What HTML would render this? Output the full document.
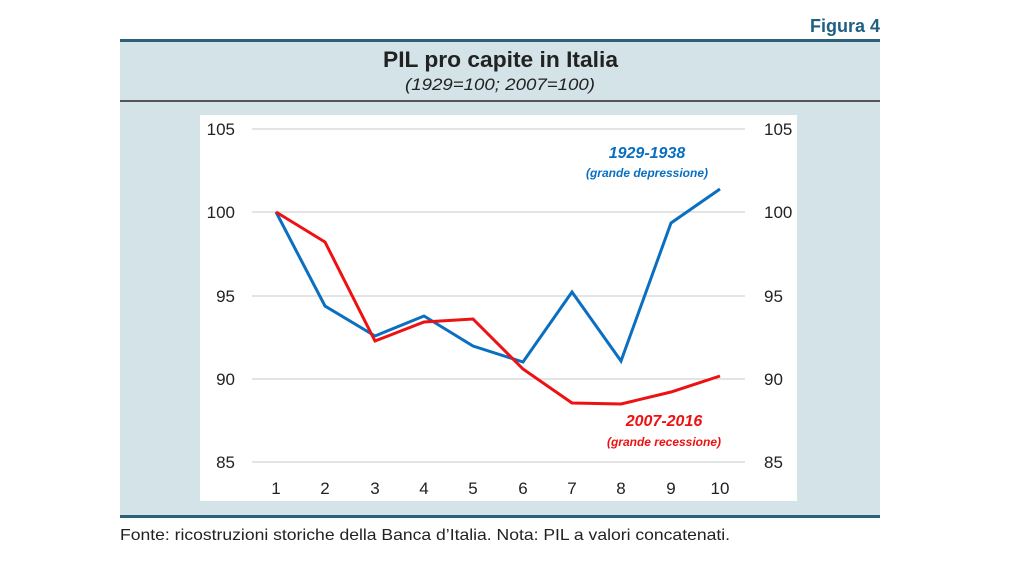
<!DOCTYPE html>
<html><head><meta charset="utf-8"><style>
body{margin:0;background:#fff;width:1024px;height:576px;overflow:hidden;font-family:"Liberation Sans",sans-serif}
</style></head><body>
<svg width="1024" height="576" xmlns="http://www.w3.org/2000/svg" style="position:absolute;left:0;top:0">
<text x="880" y="32" text-anchor="end" font-family="Liberation Sans" font-weight="bold" font-size="18" fill="#1f5f82">Figura 4</text>
<rect x="120" y="40" width="760" height="477" fill="#d3e3e8"/>
<rect x="120" y="39" width="760" height="3" fill="#2c5f78"/>
<rect x="120" y="100" width="760" height="2" fill="#555"/>
<rect x="120" y="515" width="760" height="3" fill="#2c5f78"/>
<text x="383" y="67" font-weight="bold" font-size="22" fill="#222" textLength="235" lengthAdjust="spacingAndGlyphs">PIL pro capite in Italia</text>
<text x="405" y="90" font-style="italic" font-size="17" fill="#222" textLength="190" lengthAdjust="spacingAndGlyphs">(1929=100; 2007=100)</text>
<rect x="200" y="115" width="597" height="386" fill="#fff"/>
<g stroke="#c8c8c8" stroke-width="1">
<line x1="252" y1="129" x2="745" y2="129"/><line x1="252" y1="212" x2="745" y2="212"/>
<line x1="252" y1="296" x2="745" y2="296"/><line x1="252" y1="379" x2="745" y2="379"/>
<line x1="252" y1="462" x2="745" y2="462"/>
</g>
<g font-size="17" fill="#222" font-family="Liberation Sans">
<text x="235" y="135" text-anchor="end">105</text><text x="235" y="218" text-anchor="end">100</text>
<text x="235" y="302" text-anchor="end">95</text><text x="235" y="385" text-anchor="end">90</text>
<text x="235" y="468" text-anchor="end">85</text>
<text x="764" y="135">105</text><text x="764" y="218">100</text><text x="764" y="302">95</text>
<text x="764" y="385">90</text><text x="764" y="468">85</text>
<g text-anchor="middle">
<text x="276" y="494">1</text><text x="325" y="494">2</text><text x="375" y="494">3</text><text x="424" y="494">4</text><text x="473" y="494">5</text><text x="523" y="494">6</text><text x="572" y="494">7</text><text x="621" y="494">8</text><text x="671" y="494">9</text><text x="720" y="494">10</text>
</g></g>
<polyline fill="none" stroke="#0a6fc0" stroke-width="3" points="276,212 325,306 375,336 424,316 473,346 523,362 572,292 621,361 671,223 720,189"/>
<polyline fill="none" stroke="#ee1111" stroke-width="3" points="276,212 325,242 375,341 424,322 473,319 523,369 572,403 621,404 671,392 720,376"/>
<text x="647" y="158" text-anchor="middle" font-weight="bold" font-style="italic" font-size="16" fill="#0a6fc0">1929-1938</text>
<text x="647" y="177" text-anchor="middle" font-weight="bold" font-style="italic" font-size="12" fill="#0a6fc0">(grande depressione)</text>
<text x="664" y="426" text-anchor="middle" font-weight="bold" font-style="italic" font-size="16" fill="#ee1111">2007-2016</text>
<text x="664" y="446" text-anchor="middle" font-weight="bold" font-style="italic" font-size="12" fill="#ee1111">(grande recessione)</text>
<text x="120" y="540" font-size="16" fill="#222" textLength="610" lengthAdjust="spacingAndGlyphs">Fonte: ricostruzioni storiche della Banca d’Italia. Nota: PIL a valori concatenati.</text>
</svg>
</body></html>
